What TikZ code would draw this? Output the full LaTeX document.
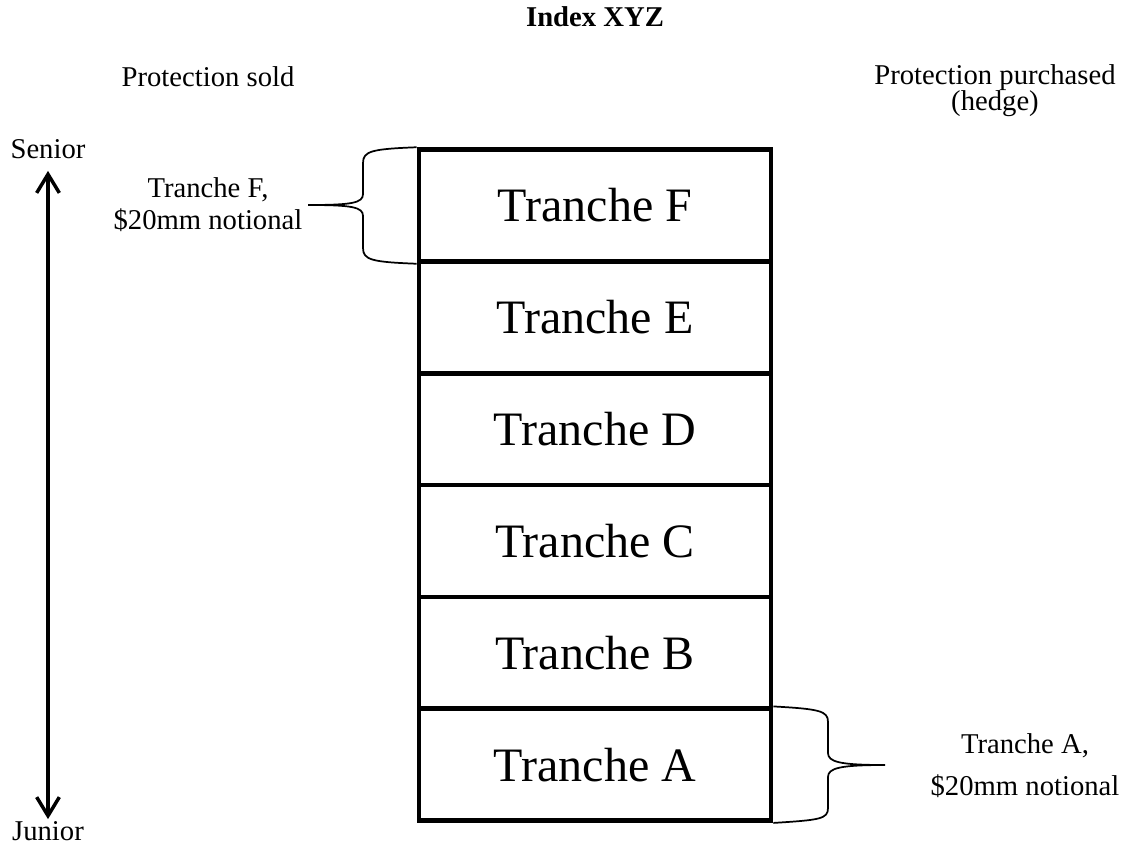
\documentclass[tikz,border=0pt]{standalone}
\usepackage{fontspec}
\setmainfont{Liberation Serif}
\usetikzlibrary{arrows.meta,positioning}

\begin{document}
\begin{tikzpicture}[x=0.75pt,y=-0.75pt,node distance= 83.875pt,
    lbl/.style={font=\fontsize{21.5}{24}\selectfont,align=center,inner sep=0pt},
    brace/.style={draw=black,line width=1.3pt},
    updown/.style={{Straight Barb[length=14pt,width=17pt]}-{Straight Barb[length=14pt,width=17pt]},line width=2.6pt}]
      \useasboundingbox (0,0) rectangle (1126,846);
      \node (title) [lbl,font=\fontsize{21.5}{24}\bfseries] at (595,17) {Index XYZ};
      \node (sold) [lbl] at (208,77) {Protection sold};
      \node (bought) [lbl,font=\fontsize{21.5}{19.5}\selectfont] at (995,91) {Protection purchased\\(hedge)};
      \node (senior) [lbl] at (48,149) {Senior};
      \node (junior) [lbl] at (48,831) {Junior};
      \begin{scope}[every node/.style={draw,line width=3.5pt,minimum width=264pt,
          minimum height=83.875pt,font=\fontsize{36}{43}\selectfont}]
        \node (F) at (595,205.5) {Tranche F};
        \node (E) [below of= F] {Tranche E};
        \node (D) [below of= E] {Tranche D};
        \node (C) [below of= D] {Tranche C};
        \node (B) [below of= C] {Tranche B};
        \node (A) [below of= B] {Tranche A};
      \end{scope}
      \node (notF) [lbl] at (208,205) {Tranche F,\\\$20mm notional};
      \node (notA) [lbl,font=\fontsize{21.5}{31.5}\selectfont] at (1025,766) {Tranche A,\\\$20mm notional};
      \coordinate (tipF) at (308,205);
      \coordinate (tipA) at (885,765);
      % braces
      \draw[brace] (F.north west) .. controls (372,149) and (363,151) .. (363,163) -- (363,194)
        .. controls (363,203) and (352,205) .. (tipF)
        .. controls (352,205) and (363,207) .. (363,216) -- (363,248)
        .. controls (363,260) and (372,262) .. (F.south west);
      \draw[brace] (A.north east) .. controls (820,709) and (828,711) .. (828,722) -- (828,753)
        .. controls (828,762) and (840,765) .. (tipA)
        .. controls (840,765) and (828,768) .. (828,777) -- (828,808)
        .. controls (828,819) and (820,820) .. (A.south east);
      \draw[updown,shorten <=9pt,shorten >=1.5pt] (senior.south) -- (junior.north);
\end{tikzpicture}
\end{document}
